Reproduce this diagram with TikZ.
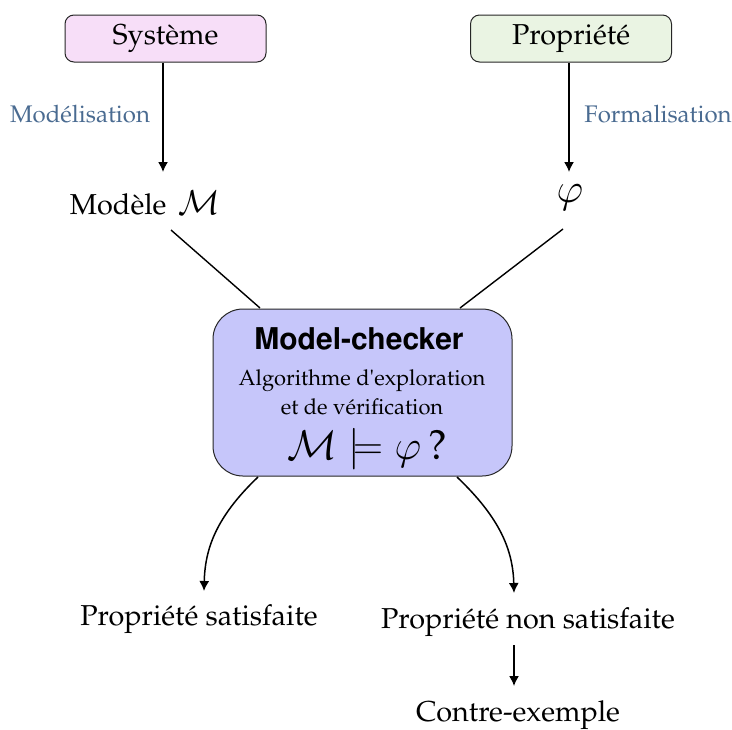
\documentclass[tikz,border=0pt]{standalone}
\usepackage[T1]{fontenc}
\renewcommand{\rmdefault}{ppl}
\usepackage{helvet}
\usetikzlibrary{arrows.meta}
\definecolor{pinkfill}{HTML}{F7DEF8}
\definecolor{greenfill}{HTML}{EAF4E3}
\definecolor{mcfill}{HTML}{C6C6FA}
\definecolor{labelblue}{HTML}{4A6B91}
\begin{document}
\begin{tikzpicture}[x=0.5pt,y=-0.5pt,
  topbox/.style={draw=black!85, line width=0.5pt, rounded corners=4.5pt,
    minimum width=100.5pt, minimum height=23.5pt, inner sep=0pt,
    font=\fontsize{14.4}{17}\selectfont},
  mcbox/.style={draw=black!85, line width=0.5pt, rounded corners=15pt, fill=mcfill,
    minimum width=149.5pt, minimum height=83.5pt, inner sep=0pt},
  plain/.style={font=\fontsize{14.4}{17}\selectfont, inner sep=0pt},
  small/.style={font=\fontsize{10.95}{13}\selectfont, inner sep=0pt},
  lbl/.style={text=labelblue, font=\fontsize{12}{14}\selectfont, inner sep=0pt},
  ar/.style={-{Latex[length=5pt,width=5pt]}, line width=0.75pt},
  ln/.style={line width=0.7pt}]
\useasboundingbox (0,0) rectangle (732,729);
% top boxes
\node[topbox, fill=pinkfill] (sys) at (165.5,38.5) {Syst\`eme};
\node[topbox, fill=greenfill] (prop) at (571,38.5) {Propri\'et\'e};
% results of modelling
\node[plain] (mod) at (145,203) {Mod\`ele\, {\fontsize{19}{22}\selectfont$\mathcal{M}$}};
\node[plain, font=\fontsize{20}{22}\selectfont] (phi) at (570,198) {$\varphi$};
% arrows down
\coordinate (m1) at (163,172);
\coordinate (p1) at (569,172);
\draw[ar] (sys.south -| m1) -- (m1);
\draw[ar] (prop.south -| p1) -- (p1);
\node[lbl] (lmod) at (80,114) {Mod\'elisation};
\node[lbl] (lform) at (658,114) {Formalisation};
% model checker
\node[mcbox] (mc) at (362.5,392.5) {};
\node[inner sep=0pt, font=\fontfamily{phv}\bfseries\fontsize{15}{18}\selectfont] (mctitle) at (359,339) {Model-checker};
\node[small] (mcalg1) at (362,381) {Algorithme d\textquotesingle exploration};
\node[small] (mcalg2) at (362,407) {et de v\'erification};
\node[inner sep=0pt, font=\fontsize{21}{24}\selectfont] (mcq) at (367,449) {$\mathcal{M}\models\varphi\,$?};
% inputs to the model checker
\coordinate (a1) at (171,230);
\coordinate (a2) at (260,308);
\coordinate (b1) at (563,229);
\coordinate (b2) at (460,308);
\draw[ln] (a1) -- (a2);
\draw[ln] (b1) -- (b2);
% outputs
\node[plain] (sat) at (199,619) {Propri\'et\'e satisfaite};
\node[plain] (nsat) at (528,622) {Propri\'et\'e non satisfaite};
\node[plain] (ce) at (518,715) {Contre-exemple};
\coordinate (c1) at (258,477);
\coordinate (c2) at (204,591);
\coordinate (d1) at (457,477);
\coordinate (d2) at (514,593);
\draw[ar] (c1) .. controls (215,518) and (205,550) .. (c2);
\draw[ar] (d1) .. controls (500,518) and (513,550) .. (d2);
\coordinate (e1) at (514,645);
\coordinate (e2) at (514,686);
\draw[ar] (e1) -- (e2);
\end{tikzpicture}
\end{document}
